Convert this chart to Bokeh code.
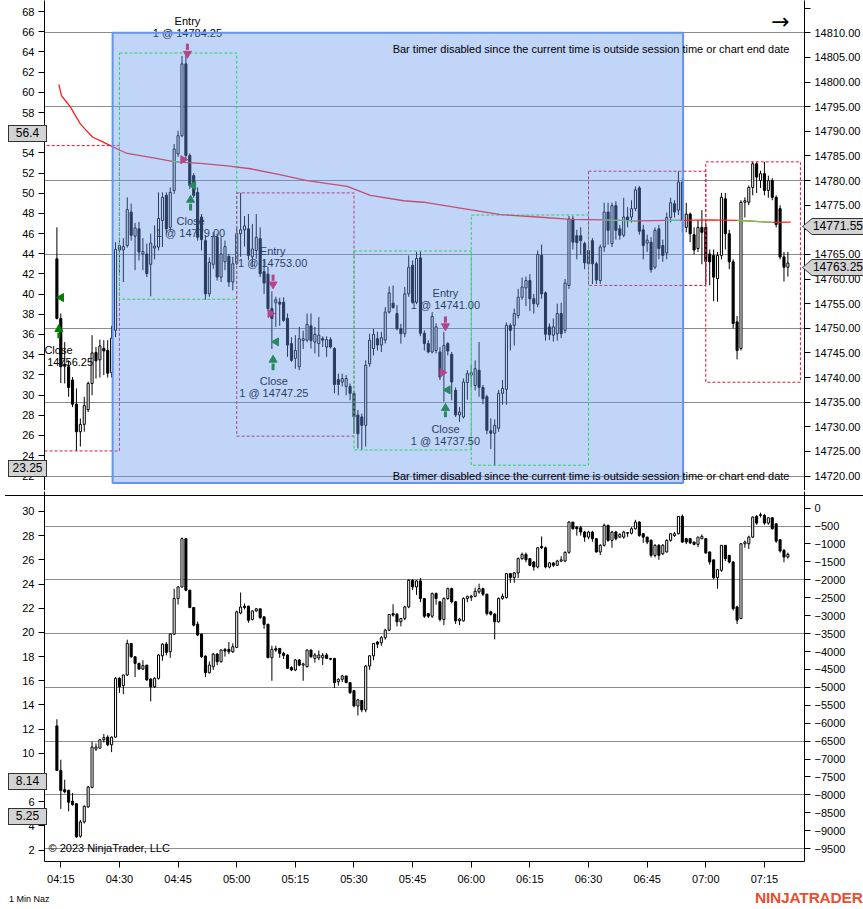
import numpy as np
from bokeh.plotting import figure
from bokeh.layouts import column
from bokeh.models import (Range1d, LinearAxis, FixedTicker, NumeralTickFormatter,
                          DatetimeTickFormatter, Div, GlobalInlineStyleSheet)
from bokeh.core.properties import value
from bokeh.embed import file_html
from bokeh.resources import INLINE

# ------------------------------------------------------------------ data
# 1-minute bars; minutes are counted from 04:15, the first bar is 04:14
FIRST_BAR_MIN = -1

price_open = [
    14764.1, 14752.0, 14742.7, 14742.2, 14739.5, 14734.6, 14729.0, 14730.5, 14733.5, 14738.8,
    14745.1, 14743.6, 14745.9, 14745.5, 14741.0, 14749.6, 14765.9, 14765.9, 14766.8, 14773.6,
    14768.7, 14770.2, 14765.1, 14765.1, 14763.0, 14766.3, 14766.5, 14771.9, 14777.0, 14770.5,
    14778.0, 14785.4, 14789.1, 14803.7, 14785.1, 14781.0, 14777.6, 14772.6, 14767.8, 14757.0,
    14763.0, 14768.5, 14760.4, 14763.5, 14764.6, 14759.4, 14763.2, 14769.2, 14770.0, 14770.2,
    14764.5, 14765.8, 14768.2, 14761.5, 14761.0, 14754.0, 14755.2, 14755.3, 14755.3, 14752.0,
    14746.9, 14743.9, 14742.2, 14747.5, 14747.6, 14750.5, 14747.2, 14746.9, 14747.9, 14746.2,
    14747.7, 14745.9, 14739.6, 14739.1, 14738.2, 14738.2, 14736.8, 14732.4, 14732.0, 14730.3,
    14742.8, 14745.9, 14747.9, 14746.6, 14747.6, 14753.3, 14755.1, 14753.0, 14749.9, 14748.9,
    14757.0, 14762.8, 14755.3, 14764.3, 14749.0, 14746.9, 14745.2, 14745.5, 14745.2, 14740.8,
    14746.9, 14744.7, 14737.4, 14732.4, 14732.0, 14739.0, 14740.5, 14738.4, 14741.5, 14738.0,
    14736.1, 14729.2, 14728.7, 14729.7, 14736.8, 14737.6, 14750.6, 14750.6, 14752.6, 14756.3,
    14758.2, 14759.7, 14756.0, 14754.9, 14764.8, 14757.2, 14750.3, 14748.6, 14748.9, 14753.0,
    14749.6, 14758.7, 14772.2, 14768.8, 14768.8, 14767.2, 14763.1, 14767.8, 14763.1, 14759.7,
    14766.5, 14773.6, 14767.2, 14774.9, 14770.2, 14768.9, 14772.6, 14772.6, 14774.3, 14778.5,
    14770.0, 14767.3, 14767.5, 14762.4, 14770.2, 14766.8, 14765.3, 14772.5, 14775.3, 14774.0,
    14779.7, 14770.5, 14773.2, 14769.0, 14766.2, 14770.5, 14770.5, 14765.1, 14764.8, 14760.1,
    14764.8, 14776.3, 14769.2, 14763.5, 14751.3, 14745.9, 14775.6, 14775.6, 14778.6, 14783.4,
    14780.0, 14781.4, 14778.0, 14780.0, 14776.6, 14774.3, 14764.5, 14762.4]
price_high = [
    14770.5, 14753.0, 14747.2, 14743.5, 14740.1, 14737.8, 14731.7, 14736.1, 14739.2, 14748.6,
    14746.2, 14747.7, 14747.6, 14747.6, 14750.5, 14767.5, 14767.8, 14768.3, 14776.6, 14775.3,
    14771.4, 14771.6, 14768.3, 14767.2, 14769.2, 14770.9, 14777.6, 14777.6, 14777.6, 14778.6,
    14787.4, 14790.1, 14805.3, 14805.7, 14785.5, 14781.5, 14778.6, 14773.2, 14768.8, 14764.4,
    14769.5, 14769.2, 14768.5, 14767.8, 14765.1, 14764.5, 14770.5, 14777.5, 14772.8, 14773.2,
    14771.2, 14773.2, 14770.5, 14764.0, 14762.5, 14757.5, 14756.4, 14756.2, 14756.3, 14753.0,
    14748.2, 14748.6, 14750.3, 14749.5, 14753.0, 14753.0, 14750.3, 14752.3, 14748.4, 14748.4,
    14748.2, 14746.2, 14740.8, 14740.8, 14740.5, 14738.8, 14737.3, 14733.4, 14732.7, 14743.5,
    14748.9, 14749.9, 14749.3, 14749.3, 14754.3, 14758.5, 14758.7, 14754.7, 14750.9, 14758.4,
    14764.8, 14763.8, 14765.5, 14765.6, 14749.6, 14747.6, 14753.3, 14751.0, 14746.2, 14749.3,
    14747.2, 14745.2, 14738.0, 14734.0, 14739.8, 14741.5, 14742.5, 14743.5, 14747.2, 14738.5,
    14736.5, 14731.7, 14731.5, 14737.5, 14739.5, 14751.2, 14751.0, 14754.0, 14758.0, 14760.3,
    14760.5, 14761.0, 14757.0, 14765.8, 14767.0, 14757.5, 14751.0, 14752.0, 14755.0, 14755.2,
    14760.0, 14772.8, 14772.8, 14770.0, 14770.5, 14767.6, 14767.5, 14768.3, 14763.5, 14767.0,
    14775.5, 14775.5, 14775.5, 14775.8, 14771.0, 14776.5, 14774.6, 14776.0, 14778.8, 14778.9,
    14771.0, 14769.0, 14768.5, 14770.5, 14771.0, 14768.0, 14773.5, 14776.5, 14776.0, 14781.9,
    14780.5, 14775.5, 14773.5, 14770.5, 14772.0, 14774.0, 14771.5, 14766.0, 14766.0, 14765.5,
    14777.5, 14777.5, 14770.0, 14764.0, 14752.5, 14776.0, 14776.6, 14779.0, 14783.8, 14783.8,
    14782.0, 14783.8, 14781.0, 14780.5, 14777.0, 14775.0, 14765.5, 14765.5]
price_low = [
    14751.8, 14738.9, 14738.8, 14736.1, 14734.0, 14725.1, 14726.0, 14729.0, 14733.0, 14736.4,
    14739.8, 14740.0, 14740.5, 14740.0, 14740.0, 14748.2, 14761.1, 14759.4, 14766.4, 14767.8,
    14761.8, 14763.8, 14761.8, 14760.4, 14756.5, 14764.0, 14765.8, 14766.5, 14769.2, 14769.8,
    14777.3, 14784.8, 14788.8, 14784.0, 14778.3, 14776.5, 14767.8, 14765.8, 14755.8, 14756.4,
    14762.1, 14759.7, 14759.4, 14761.8, 14758.4, 14757.7, 14762.8, 14764.5, 14766.6, 14763.8,
    14762.4, 14764.1, 14760.4, 14757.0, 14753.5, 14745.8, 14750.3, 14750.5, 14751.3, 14744.2,
    14743.2, 14741.8, 14741.5, 14745.8, 14747.2, 14745.9, 14744.9, 14744.2, 14746.2, 14744.2,
    14745.9, 14736.8, 14736.4, 14738.2, 14736.4, 14735.4, 14728.6, 14725.6, 14725.3, 14726.0,
    14742.2, 14744.5, 14745.5, 14745.2, 14746.9, 14753.0, 14754.0, 14749.6, 14746.9, 14748.2,
    14756.4, 14755.0, 14754.9, 14748.4, 14745.5, 14744.9, 14744.9, 14744.9, 14739.5, 14735.1,
    14744.5, 14735.4, 14732.0, 14731.0, 14731.7, 14735.5, 14738.0, 14737.4, 14736.1, 14734.6,
    14728.5, 14725.5, 14722.2, 14729.0, 14734.5, 14734.5, 14745.5, 14746.5, 14752.0, 14755.8,
    14754.5, 14753.5, 14753.0, 14754.3, 14756.0, 14747.5, 14747.6, 14747.3, 14747.5, 14748.0,
    14749.0, 14758.0, 14766.0, 14764.0, 14765.0, 14762.0, 14762.7, 14759.0, 14759.0, 14759.0,
    14765.5, 14767.0, 14766.5, 14768.0, 14768.0, 14768.5, 14770.5, 14771.5, 14773.8, 14769.0,
    14764.0, 14765.5, 14761.3, 14762.0, 14764.0, 14763.5, 14764.0, 14771.5, 14772.5, 14773.0,
    14769.5, 14769.5, 14767.5, 14765.0, 14765.5, 14763.0, 14759.0, 14758.7, 14755.5, 14755.4,
    14764.0, 14766.0, 14762.0, 14750.0, 14743.7, 14745.5, 14772.5, 14775.0, 14777.0, 14777.5,
    14778.5, 14777.0, 14776.5, 14776.0, 14770.5, 14764.0, 14759.5, 14760.5]
price_close = [
    14752.0, 14742.2, 14742.3, 14738.0, 14734.6, 14729.0, 14730.5, 14734.3, 14738.8, 14745.0,
    14743.4, 14746.4, 14745.4, 14740.9, 14748.0, 14766.0, 14766.8, 14766.6, 14774.1, 14768.9,
    14770.4, 14765.5, 14765.6, 14761.1, 14767.3, 14766.7, 14772.3, 14776.6, 14770.2, 14777.6,
    14786.4, 14789.1, 14803.7, 14785.1, 14779.0, 14777.0, 14768.5, 14768.0, 14757.0, 14763.4,
    14768.6, 14760.4, 14765.1, 14766.6, 14759.4, 14763.1, 14769.2, 14770.0, 14770.8, 14764.8,
    14766.1, 14768.5, 14761.1, 14759.2, 14754.0, 14752.0, 14755.8, 14754.9, 14751.6, 14746.6,
    14743.5, 14745.5, 14747.9, 14747.9, 14750.8, 14747.5, 14748.8, 14748.6, 14747.6, 14747.7,
    14746.2, 14738.6, 14738.6, 14739.8, 14739.8, 14736.8, 14732.0, 14728.6, 14730.3, 14742.5,
    14747.6, 14748.8, 14746.6, 14748.1, 14753.3, 14757.2, 14754.2, 14749.9, 14748.9, 14757.0,
    14762.4, 14755.3, 14764.2, 14749.0, 14746.9, 14745.2, 14752.4, 14750.3, 14740.1, 14746.5,
    14745.4, 14739.1, 14732.4, 14733.0, 14739.1, 14740.8, 14741.0, 14741.8, 14738.0, 14735.7,
    14729.3, 14728.7, 14730.3, 14736.8, 14737.8, 14750.6, 14749.6, 14753.0, 14756.3, 14758.4,
    14759.7, 14756.0, 14755.0, 14765.0, 14757.0, 14748.8, 14748.7, 14750.3, 14753.0, 14748.9,
    14759.2, 14772.2, 14767.5, 14767.4, 14767.8, 14763.3, 14765.8, 14763.1, 14759.8, 14766.5,
    14773.6, 14769.9, 14774.9, 14769.9, 14768.9, 14772.6, 14771.9, 14774.3, 14778.1, 14769.7,
    14766.8, 14767.9, 14761.9, 14769.9, 14766.2, 14764.8, 14772.5, 14775.5, 14773.6, 14779.7,
    14772.0, 14773.2, 14769.2, 14765.9, 14770.5, 14769.5, 14763.6, 14763.5, 14760.4, 14764.8,
    14776.6, 14769.2, 14763.5, 14751.0, 14745.5, 14775.6, 14775.9, 14778.6, 14783.4, 14780.7,
    14781.4, 14778.0, 14780.0, 14776.6, 14771.1, 14764.5, 14762.4, 14763.25]

# lower panel (left scale 2..30, right scale -9500..0)
delta_open = [
    12.27, 8.59, 7.0, 6.94, 6.04, 5.84, 3.15, 4.33, 5.57, 7.19,
    10.35, 10.43, 11.12, 11.34, 10.71, 11.34, 16.2, 15.6, 16.48, 19.09,
    17.99, 17.44, 16.97, 17.3, 16.15, 15.5, 16.2, 18.07, 19.03, 18.4,
    19.86, 22.8, 23.76, 27.75, 23.49, 22.06, 20.68, 19.86, 18.04, 16.67,
    17.17, 18.21, 17.58, 18.6, 18.6, 18.4, 18.76, 21.6, 22.17, 22.17,
    21.07, 21.78, 21.95, 21.29, 20.68, 17.91, 18.65, 18.68, 18.27, 18.13,
    17.1, 16.89, 17.72, 17.3, 17.17, 18.54, 17.85, 17.9, 17.9, 18.13,
    17.85, 17.85, 15.93, 16.12, 16.4, 15.85, 15.19, 13.92, 14.37, 13.6,
    17.22, 18.07, 19.2, 19.14, 19.56, 20.19, 21.56, 21.5, 20.88, 21.15,
    22.11, 24.31, 23.76, 24.26, 22.8, 21.56, 21.34, 23.21, 22.53, 21.07,
    22.8, 23.62, 22.53, 20.96, 20.96, 22.8, 22.9, 22.99, 23.35, 23.62,
    23.16, 21.7, 21.51, 20.88, 22.8, 22.88, 24.86, 24.53, 24.92, 26.1,
    26.45, 26.1, 25.82, 25.41, 27.11, 27.0, 25.41, 25.74, 25.55, 25.9,
    25.9, 26.62, 29.12, 28.7, 28.65, 28.3, 27.88, 28.3, 27.75, 26.65,
    27.2, 28.85, 27.61, 28.3, 27.88, 27.88, 28.2, 28.2, 28.57, 29.12,
    28.16, 27.88, 27.61, 26.37, 27.2, 26.5, 26.65, 27.61, 28.0, 28.16,
    29.59, 27.75, 27.75, 27.47, 27.28, 27.75, 27.75, 26.65, 26.0, 24.53,
    25.14, 27.2, 26.37, 25.82, 22.11, 21.15, 27.33, 27.33, 27.88, 29.59,
    29.73, 29.67, 29.04, 29.48, 28.98, 27.66, 26.78, 26.23]
delta_high = [
    12.82, 9.47, 7.82, 7.0, 6.72, 5.9, 4.5, 5.7, 7.3, 10.96,
    10.82, 11.2, 11.6, 11.5, 11.4, 16.3, 16.3, 16.5, 19.4, 19.1,
    18.0, 17.5, 17.7, 17.3, 16.2, 16.3, 18.2, 19.1, 19.2, 19.9,
    23.6, 23.8, 27.85, 27.8, 23.5, 22.1, 20.9, 19.9, 18.1, 17.6,
    18.3, 18.3, 18.6, 18.7, 19.2, 19.1, 21.8, 23.3, 22.4, 22.2,
    21.8, 22.0, 21.95, 21.3, 20.7, 18.9, 18.9, 18.7, 18.4, 18.2,
    17.2, 17.8, 17.8, 17.5, 18.6, 18.6, 18.3, 18.5, 18.3, 18.3,
    17.9, 17.9, 16.2, 16.5, 16.4, 15.9, 15.2, 14.5, 14.4, 17.3,
    18.1, 19.1, 19.3, 19.7, 20.3, 21.5, 22.33, 21.6, 21.2, 22.2,
    24.4, 24.4, 24.3, 24.5, 22.8, 21.6, 23.3, 23.3, 22.6, 22.9,
    23.7, 23.7, 22.6, 21.2, 22.9, 23.0, 23.1, 23.7, 24.03, 23.7,
    23.2, 21.8, 21.6, 22.9, 23.2, 24.9, 24.9, 25.0, 26.2, 26.6,
    26.6, 26.1, 25.9, 27.0, 27.94, 27.1, 25.8, 25.8, 26.0, 26.3,
    26.7, 29.2, 29.12, 28.8, 28.8, 28.4, 28.4, 28.4, 27.8, 27.3,
    29.0, 28.9, 28.4, 28.4, 28.2, 28.4, 28.3, 28.7, 29.31, 29.2,
    28.2, 27.9, 27.7, 27.3, 27.3, 27.3, 27.7, 28.2, 28.3, 29.6,
    29.75, 27.8, 27.8, 27.5, 27.9, 28.1, 27.8, 26.7, 26.0, 25.2,
    27.2, 27.2, 26.4, 25.9, 22.2, 27.4, 27.6, 28.0, 29.6, 29.7,
    29.9, 29.8, 29.5, 29.5, 29.0, 27.7, 26.9, 26.6]
delta_low = [
    8.59, 5.41, 6.7, 5.21, 5.68, 3.02, 3.02, 4.2, 5.5, 7.1,
    10.2, 10.4, 10.9, 10.6, 10.1, 11.3, 15.0, 14.9, 16.4, 17.9,
    16.3, 16.9, 16.9, 16.0, 14.3, 15.4, 16.1, 17.66, 18.1, 17.9,
    19.8, 22.3, 23.7, 23.4, 22.0, 20.5, 19.7, 17.9, 16.3, 16.6,
    16.9, 17.3, 17.5, 18.0, 18.2, 18.3, 18.7, 21.5, 21.9, 20.8,
    21.0, 21.7, 21.1, 20.3, 17.9, 16.0, 18.4, 17.9, 17.8, 17.0,
    16.8, 16.8, 17.2, 16.0, 17.1, 17.9, 17.5, 17.7, 17.3, 17.8,
    17.7, 15.4, 15.6, 15.9, 15.8, 14.9, 13.8, 13.13, 13.4, 13.4,
    16.9, 17.7, 18.7, 18.9, 19.4, 20.1, 21.3, 20.5, 20.5, 21.0,
    22.0, 23.5, 23.1, 22.5, 21.2, 21.2, 21.2, 22.3, 20.9, 20.6,
    22.7, 22.4, 20.7, 20.6, 20.9, 22.5, 22.6, 22.9, 23.2, 23.0,
    21.4, 21.4, 19.42, 20.8, 22.7, 22.8, 24.1, 24.1, 24.5, 26.0,
    25.8, 25.5, 25.1, 25.3, 26.9, 25.3, 25.3, 25.4, 25.5, 25.8,
    25.8, 26.5, 28.5, 28.0, 28.0, 27.5, 27.7, 27.5, 26.6, 26.4,
    27.1, 27.5, 27.0, 27.6, 27.8, 27.75, 27.9, 28.1, 28.5, 27.9,
    27.4, 27.3, 26.2, 26.2, 26.0, 26.4, 26.6, 27.5, 27.9, 28.1,
    27.4, 27.3, 27.3, 27.2, 27.06, 27.7, 26.5, 25.6, 24.4, 23.6,
    25.0, 25.9, 25.7, 21.8, 20.7, 21.1, 27.0, 26.9, 27.8, 28.9,
    29.5, 28.9, 28.9, 28.5, 27.4, 26.6, 25.8, 26.1]
delta_close = [
    8.59, 6.94, 6.83, 5.96, 5.76, 3.10, 4.33, 5.62, 7.22, 10.52,
    10.52, 11.12, 11.3, 10.71, 11.34, 16.2, 15.5, 16.48, 19.09, 17.99,
    17.44, 16.97, 17.25, 16.07, 15.5, 16.2, 18.13, 19.03, 18.35, 19.86,
    22.8, 23.76, 27.75, 23.49, 22.06, 20.6, 19.78, 17.99, 16.67, 17.3,
    18.21, 17.58, 18.54, 18.46, 18.4, 18.82, 21.7, 22.1, 22.06, 21.01,
    21.78, 21.95, 21.23, 20.66, 17.91, 18.6, 18.54, 18.27, 18.1, 17.03,
    16.9, 17.72, 17.3, 17.4, 18.54, 17.99, 18.13, 18.13, 18.1, 17.85,
    17.78, 15.85, 16.12, 16.4, 15.85, 15.02, 13.92, 14.42, 13.6, 17.22,
    18.07, 19.09, 19.03, 19.56, 20.19, 21.48, 21.43, 20.88, 21.15, 22.11,
    24.31, 23.76, 24.26, 22.8, 21.34, 21.34, 23.21, 22.8, 21.07, 22.8,
    23.62, 22.53, 20.96, 21.1, 22.8, 22.99, 23.0, 23.4, 23.62, 23.16,
    21.56, 21.51, 20.88, 22.8, 22.99, 24.86, 24.53, 24.92, 26.1, 26.45,
    26.01, 25.55, 25.41, 27.0, 27.0, 25.41, 25.74, 25.55, 25.9, 26.0,
    26.62, 29.12, 28.57, 28.57, 28.3, 27.88, 28.3, 27.75, 26.65, 27.2,
    28.85, 27.61, 28.3, 27.75, 28.1, 28.3, 28.25, 28.57, 29.12, 28.02,
    27.88, 27.47, 26.37, 27.2, 26.37, 27.2, 27.61, 28.16, 28.16, 29.59,
    27.47, 27.47, 27.4, 27.28, 27.88, 27.94, 26.57, 25.82, 24.53, 25.19,
    27.2, 26.1, 25.82, 21.97, 21.01, 27.33, 27.47, 27.88, 29.53, 29.04,
    29.67, 29.04, 29.48, 28.57, 27.55, 26.73, 26.23, 26.45]

# average-price curve (minutes from 04:15, price); segments listed in vw_rising_segments are green
vw_min = [-0.5, 0.2, 1.2, 2.5, 3.5, 5.0, 6.6, 8.2, 10.1, 12.7, 15.3, 17.0, 23.0, 28.5, 31.5,
          35.7, 42.6, 48.5, 56.0, 63.0, 73.3, 79.2, 87.7, 92.8, 103.0, 112.5, 122.0, 130.4,
          138.5, 147.5, 155.0, 158.5, 166.2, 173.0, 182.0, 186.7]
vw_val = [14799.5, 14797.2, 14796.2, 14794.9, 14793.5, 14791.5, 14790.1, 14788.8, 14788.1,
          14787.1, 14786.1, 14785.5, 14784.7, 14783.9, 14783.7, 14783.5, 14783.0, 14782.4,
          14781.2, 14780.0, 14778.8, 14777.0, 14775.9, 14775.6, 14774.3, 14773.1, 14772.6,
          14772.1, 14772.0, 14771.8, 14771.9, 14771.9, 14772.0, 14771.9, 14771.5, 14771.55]
vw_rising_segments = [13, 28, 30, 33]

# half-hour range boxes
box_from = [-10, 15, 45, 75, 105, 135, 165]
box_to = [15, 45, 75, 105, 135, 165, 189.2]
box_high = [14787.1, 14805.9, 14777.5, 14765.7, 14773.0, 14781.9, 14783.8]
box_low = [14725.1, 14755.9, 14728.1, 14725.3, 14722.2, 14758.7, 14739.05]
box_up = [False, True, False, True, True, False, False]

# highlighted region
region_from, region_to = 13.25, 159.2
region_top, region_bottom = 14810.0, 14718.6

# trades
entry_min = [31.3, 53.6, 97.6]
entry_price = [14784.25, 14753.00, 14741.00]
entry_arrow_min = [32.4, 54.3, 98.4]
entry_arrow_top = [14807.8, 14760.9, 14752.4]
entry_arrow_tip = [14804.9, 14758.1, 14749.6]
entry_text_min = [32.4, 54.2, 98.4]
entry_text_price = [14810.0, 14763.2, 14754.7]

exit_min = [0.1, 33.9, 55.1, 99.0]
exit_price = [14756.25, 14779.00, 14747.25, 14737.50]
exit_arrow_min = [-0.5, 33.2, 54.3, 98.4]
exit_arrow_tip = [14750.6, 14777.0, 14744.5, 14734.6]
exit_arrow_bottom = [14748.0, 14773.9, 14741.5, 14731.95]
exit_text_min = [-0.6, 33.2, 54.5, 98.4]
exit_text_price = [14743.1, 14769.3, 14736.9, 14727.15]

# axes
price_ticks = [14720 + 5 * k for k in range(20)]          # 14720 ... 14815
price_unlabelled = [14815]
price_grid = [14720, 14735, 14750, 14765, 14780, 14795, 14810]
top_left_ticks = list(range(22, 69, 2))
delta_ticks = [-9500 + 500 * k for k in range(20)]
delta_grid = [-9500, -8000, -6500, -5000, -3500, -2000, -500]
bottom_left_ticks = list(range(2, 31, 2))
time_tick_min = [15 * k for k in range(13)]   # 04:15 ... 07:15

# current values flagged on the axes
top_left_flags = [56.4, 23.25]
top_right_flags = [14771.55, 14763.25]
bottom_left_flags = [8.14, 5.25]

# ------------------------------------------------------------------ helpers
FONT = "Liberation Sans"
FS = "11px"
MS_0415 = (4 * 60 + 15) * 60000
BODY_W = 32000


def tms(m):
    return MS_0415 + np.asarray(m, dtype=float) * 60000


def style_axis(ax):
    ax.axis_line_color = "black"
    ax.major_tick_line_color = "black"
    ax.major_tick_out = 6
    ax.major_tick_in = 0
    ax.minor_tick_line_color = None
    ax.major_label_text_font = FONT
    ax.major_label_text_font_size = FS
    ax.major_label_text_color = "black"
    ax.major_label_standoff = 4


def draw_candles(p, o, h, l, c, rn="default"):
    o, h, l, c = (np.asarray(a, dtype=float) for a in (o, h, l, c))
    n = min(len(o), len(h), len(l), len(c))
    o, h, l, c = o[:n], h[:n], l[:n], c[:n]
    x = tms(np.arange(n) + FIRST_BAR_MIN)
    up = c >= o
    p.segment(x, h, x, l, line_color="black", line_width=1, y_range_name=rn)
    p.vbar(x=x[up], width=BODY_W, top=c[up], bottom=o[up], fill_color="white",
           line_color="black", line_width=1, y_range_name=rn)
    p.vbar(x=x[~up], width=BODY_W, top=o[~up], bottom=c[~up], fill_color="black",
           line_color="black", line_width=1, y_range_name=rn)


def add_text(p, m, y, txt, size=FS, align="center", color="black", font=FONT, rn="default"):
    p.text(x=[float(tms(m))], y=[y], text=[txt], text_align=align, text_baseline="middle",
           text_font=value(font), text_font_size=size, text_color=color, y_range_name=rn)


XR = Range1d(float(tms(-4.17)), float(tms(190.25)))

# ------------------------------------------------------------------ price panel
P1_H = 490
Y1 = Range1d(14717.07, 14816.56)
L1 = Range1d(20.54, 69.10)
p1 = figure(width=863, height=P1_H, x_range=XR, y_range=Y1,
            x_axis_type="datetime", x_axis_location=None, y_axis_location="right",
            output_backend="svg", toolbar_location=None,
            min_border_left=44, min_border_right=59, min_border_top=0, min_border_bottom=0)
p1.outline_line_color = None
p1.xgrid.visible = False
p1.ygrid.ticker = FixedTicker(ticks=price_grid)
p1.ygrid.grid_line_color = "#8c8c8c"
p1.yaxis.ticker = FixedTicker(ticks=price_ticks)
p1.yaxis.formatter = NumeralTickFormatter(format="0.00")
p1.yaxis.major_label_overrides = {t: "" for t in price_unlabelled}
style_axis(p1.yaxis[0])
p1.extra_y_ranges = {"L": L1}
ax_l1 = LinearAxis(y_range_name="L", ticker=FixedTicker(ticks=top_left_ticks))
style_axis(ax_l1)
p1.add_layout(ax_l1, "left")

draw_candles(p1, price_open, price_high, price_low, price_close)

for a, b, t, btm, upb in zip(box_from, box_to, box_high, box_low, box_up):
    p1.quad(left=[float(tms(a))], right=[float(tms(b))], top=[t], bottom=[btm],
            fill_alpha=0, line_color="#00ff00" if upb else "#dc143c",
            line_width=1, line_dash="3 2")

vx = tms(vw_min)
p1.line(vx, vw_val, line_color="#ff2020", line_width=1.3)
for i in vw_rising_segments:
    p1.line(vx[i:i + 2], vw_val[i:i + 2], line_color="#5ad85a", line_width=1.3)

ENTRY_C = "#e8104a"
EXIT_C = "#008000"
p1.scatter(tms(entry_min), entry_price, marker="triangle", angle=-np.pi / 2, size=8,
           fill_color=ENTRY_C, line_color=ENTRY_C)
p1.scatter(tms(exit_min), exit_price, marker="triangle", angle=np.pi / 2, size=8,
           fill_color=EXIT_C, line_color=EXIT_C)
ea_t, ea_b = np.asarray(entry_arrow_top), np.asarray(entry_arrow_tip)
p1.segment(tms(entry_arrow_min), ea_t, tms(entry_arrow_min), ea_b + 0.55 * (ea_t - ea_b),
           line_color=ENTRY_C, line_width=3)
p1.scatter(tms(entry_arrow_min), ea_b + 0.3 * (ea_t - ea_b), marker="inverted_triangle",
           size=8, fill_color=ENTRY_C, line_color=ENTRY_C)
xa_t, xa_b = np.asarray(exit_arrow_tip), np.asarray(exit_arrow_bottom)
p1.segment(tms(exit_arrow_min), xa_b, tms(exit_arrow_min), xa_t - 0.55 * (xa_t - xa_b),
           line_color=EXIT_C, line_width=3)
p1.scatter(tms(exit_arrow_min), xa_t - 0.3 * (xa_t - xa_b), marker="triangle",
           size=8, fill_color=EXIT_C, line_color=EXIT_C)

for m, y, pr in zip(entry_text_min, entry_text_price, entry_price):
    add_text(p1, m, y + 2.4, "Entry")
    add_text(p1, m, y, "1 @ %.2f" % pr)
for m, y, pr in zip(exit_text_min, exit_text_price, exit_price):
    add_text(p1, m, y + 2.4, "Close")
    add_text(p1, m, y, "1 @ %.2f" % pr)

p1.quad(left=[float(tms(region_from))], right=[float(tms(region_to))], top=[region_top],
        bottom=[region_bottom], fill_color="cornflowerblue", fill_alpha=0.4,
        line_color="cornflowerblue", line_width=2)

msg = "Bar timer disabled since the current time is outside session time or chart end date"
add_text(p1, 186.4, 14806.8, msg, align="right")
add_text(p1, 186.4, 14720.1, msg, align="right")
add_text(p1, 184.1, 14812.3, "\u2192", size="22px", font="DejaVu Sans")

# ------------------------------------------------------------------ lower panel
P2_TOP = P1_H
P2_H = 397
Y2 = Range1d(-9860, 464.8)
L2 = Range1d(1.06, 31.65)
p2 = figure(width=863, height=P2_H, x_range=XR, y_range=Y2,
            x_axis_type="datetime", y_axis_location="right",
            output_backend="svg", toolbar_location=None,
            min_border_left=44, min_border_right=59, min_border_top=1, min_border_bottom=25)
p2.outline_line_color = None
p2.xgrid.visible = False
p2.ygrid.ticker = FixedTicker(ticks=delta_grid)
p2.ygrid.grid_line_color = "#8c8c8c"
p2.yaxis.ticker = FixedTicker(ticks=delta_ticks)
style_axis(p2.yaxis[0])
p2.xaxis.ticker = FixedTicker(ticks=[float(t) for t in tms(time_tick_min)])
p2.xaxis.formatter = DatetimeTickFormatter(minutes="%H:%M", hourmin="%H:%M", hours="%H:%M",
                                           minsec="%H:%M", seconds="%H:%M")
style_axis(p2.xaxis[0])
p2.xaxis.major_label_standoff = 5
p2.extra_y_ranges = {"L": L2}
ax_l2 = LinearAxis(y_range_name="L", ticker=FixedTicker(ticks=bottom_left_ticks))
style_axis(ax_l2)
p2.add_layout(ax_l2, "left")

draw_candles(p2, delta_open, delta_high, delta_low, delta_close, rn="L")
add_text(p2, -3.15, -9470, "\u00a9 2023 NinjaTrader, LLC", align="left")


# ------------------------------------------------------------------ flagged values (HTML boxes over the axes)
def y_px(val, rng, top_px, height_px):
    return top_px + (rng.end - val) / (rng.end - rng.start) * height_px


FLAG_FONT = "font-family:'Liberation Sans',Arial,sans-serif;font-size:12px;"


def left_flag(txt, cy):
    top = int(round(cy - 8))
    return Div(text=txt, width=39, height=17, styles={
        "position": "absolute", "left": "3px", "top": str(top) + "px",
        "width": "39px", "height": "17px", "box-sizing": "border-box",
        "background-color": "#d3d3d3", "border": "1px solid #333",
        "font-family": "'Liberation Sans', Arial, sans-serif", "font-size": "12px",
        "line-height": "15px", "text-align": "center", "color": "black",
        "overflow": "hidden", "z-index": "10"})


def right_flag(txt, cy):
    top = int(round(cy - 8.5))
    html = ('<div style="position:relative;width:66px;height:17px;background:#333;'
            'clip-path:polygon(0 50%,10px 0,100% 0,100% 100%,10px 100%);">'
            '<div style="position:absolute;left:1px;top:1px;width:64px;height:15px;'
            'background:#d3d3d3;clip-path:polygon(0 50%,9px 0,100% 0,100% 100%,9px 100%);'
            + FLAG_FONT +
            'line-height:15px;color:black;text-align:right;padding-right:4px;'
            'box-sizing:border-box;">' + txt + '</div></div>')
    return Div(text=html, width=66, height=17, styles={
        "position": "absolute", "left": "797px", "top": str(top) + "px",
        "width": "66px", "height": "17px", "overflow": "hidden", "z-index": "10"})


flags = []
for v in top_left_flags:
    flags.append(left_flag("%g" % v, y_px(v, L1, 0, P1_H)))
for v in top_right_flags:
    flags.append(right_flag("%.2f" % v, y_px(v, Y1, 0, P1_H)))
F2_TOP, F2_H = P2_TOP + 1, P2_H - 1 - 25
for v in bottom_left_flags:
    flags.append(left_flag("%g" % v, y_px(v, L2, F2_TOP, F2_H)))

separator = Div(text="", width=863, height=1,
                styles={"position": "absolute", "left": "0px", "top": str(P1_H) + "px",
                        "width": "863px", "height": "1px", "background-color": "black",
                        "overflow": "hidden", "z-index": "5"})

footer_html = ('<div style="position:relative;width:863px;height:22px;'
               "font-family:'Liberation Sans',Arial,sans-serif;\">"
               '<span style="position:absolute;left:4px;top:1px;font-size:9px;color:black;'
               'white-space:nowrap;">1 Min Naz</span>'
               '<span style="position:absolute;left:750px;top:-5px;font-size:15.5px;font-weight:bold;'
               'color:#e8502d;letter-spacing:-0.2px;white-space:nowrap;">NINJATRADER</span></div>')
footer = Div(text=footer_html, width=863, height=22,
             styles={"position": "absolute", "left": "0px",
                     "top": str(P2_TOP + P2_H) + "px", "width": "863px",
                     "height": "22px", "overflow": "visible"})

layout = column(p1, p2, separator, footer, *flags, spacing=0)
layout.stylesheets = [GlobalInlineStyleSheet(
    css="html, body { margin: 0 !important; padding: 0 !important; overflow: hidden !important; }")]

open("out.html", "w").write(file_html(layout, INLINE))
